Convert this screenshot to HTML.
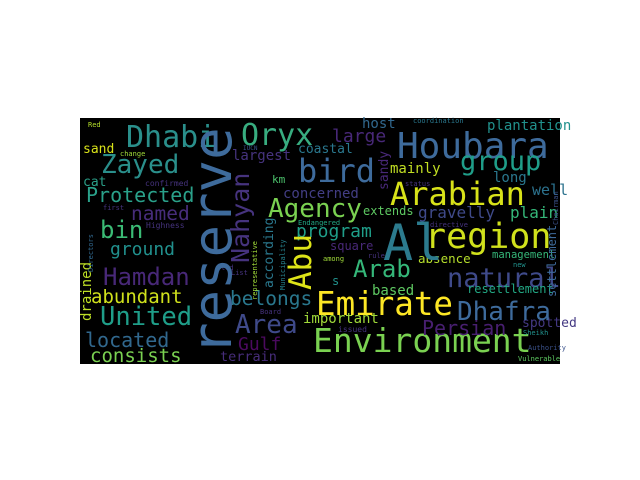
<!DOCTYPE html>
<html><head><meta charset="utf-8"><style>
html,body{margin:0;padding:0;background:#fff;width:640px;height:480px;overflow:hidden}
svg text{font-family:"DejaVu Sans Mono","Liberation Mono",monospace}
</style></head><body>
<svg width="640" height="480" xmlns="http://www.w3.org/2000/svg">
<rect x="80" y="118" width="480" height="246" fill="#000"/>
<g>
<text x="397" y="158" font-size="36" fill="#3e6b9c">Houbara</text>
<text x="126" y="147" font-size="30" fill="#2a8f8b">Dhabi</text>
<text x="241" y="145" font-size="30" fill="#38ad80">Oryx</text>
<text x="88" y="127" font-size="7" fill="#b5de2b">Red</text>
<text x="83" y="153" font-size="13" fill="#d8e219">sand</text>
<text x="120" y="156" font-size="7" fill="#a0da39">change</text>
<text x="101" y="173" font-size="26" fill="#2a8f8b">Zayed</text>
<text x="232" y="160" font-size="14" fill="#46337e">largest</text>
<text x="243" y="150" font-size="6" fill="#3b528b">IUCN</text>
<text x="298" y="153" font-size="13" fill="#2a788e">coastal</text>
<text x="298" y="182" font-size="32" fill="#3e6b9c">bird</text>
<text x="83" y="186" font-size="13" fill="#2a9f88">cat</text>
<text x="145" y="186" font-size="8" fill="#46337e">confirmed</text>
<text x="272" y="183" font-size="11" fill="#4cc26c">km</text>
<text x="86" y="202" font-size="20" fill="#2aa18a">Protected</text>
<text x="283" y="198" font-size="14" fill="#433e85">concerned</text>
<text x="268" y="217" font-size="26" fill="#7ad151">Agency</text>
<text x="131" y="220" font-size="19.5" fill="#472d7b">named</text>
<text x="103" y="210" font-size="7" fill="#46337e">first</text>
<text x="146" y="228" font-size="8" fill="#46337e">Highness</text>
<text x="100" y="238" font-size="24" fill="#3bbb75">bin</text>
<text x="110" y="255" font-size="18" fill="#21908d">ground</text>
<text x="103" y="285" font-size="24" fill="#482878">Hamdan</text>
<text x="91" y="303" font-size="19" fill="#d0e11c">abundant</text>
<text x="230" y="305" font-size="19.5" fill="#2a788e">belongs</text>
<text x="100" y="325" font-size="25.5" fill="#1f9e89">United</text>
<text x="235" y="333" font-size="26" fill="#3f4a8a">Area</text>
<text x="85" y="347" font-size="20" fill="#31688e">located</text>
<text x="238" y="350" font-size="18" fill="#4b0a5f">Gulf</text>
<text x="90" y="362" font-size="19" fill="#7ad151">consists</text>
<text x="220" y="361" font-size="13.5" fill="#472d7b">terrain</text>
<text x="303" y="323" font-size="14" fill="#a0da39">important</text>
<text x="316" y="315" font-size="32.5" fill="#fde725">Emirate</text>
<text x="313" y="352" font-size="33" fill="#7ad151">Environment</text>
<text x="260" y="314" font-size="7" fill="#46337e">Board</text>
<text x="221" y="270" font-size="7" fill="#46337e">led</text>
<text x="231" y="275" font-size="7" fill="#46337e">List</text>
<text x="422" y="335" font-size="20" fill="#481f70">Persian</text>
<text x="522" y="327" font-size="13" fill="#443983">spotted</text>
<text x="523" y="335" font-size="7" fill="#21918c">Sheikh</text>
<text x="528" y="350" font-size="7" fill="#3b528b">Authority</text>
<text x="518" y="361" font-size="7" fill="#5ec962">Vulnerable</text>
<text x="338" y="332" font-size="8" fill="#46337e">issued</text>
<text x="457" y="320" font-size="26" fill="#3e6b9c">Dhafra</text>
<text x="353" y="277" font-size="24" fill="#35b779">Arab</text>
<text x="447" y="287" font-size="27" fill="#3f4a8a">natural</text>
<text x="372" y="295" font-size="14" fill="#5ec962">based</text>
<text x="332" y="285" font-size="12" fill="#21918c">s</text>
<text x="418" y="263" font-size="12.5" fill="#b5de2b">absence</text>
<text x="492" y="258" font-size="10.5" fill="#35b779">management</text>
<text x="467" y="293" font-size="12" fill="#22a884">resettlement</text>
<text x="513" y="267" font-size="7" fill="#21918c">new</text>
<text x="330" y="250" font-size="12" fill="#482878">square</text>
<text x="323" y="261" font-size="7" fill="#a0da39">among</text>
<text x="368" y="258" font-size="7" fill="#46337e">ruler</text>
<text x="383" y="260" font-size="50" fill="#2c7b8e">Al</text>
<text x="425" y="248" font-size="35" fill="#d0e11c">region</text>
<text x="390" y="205" font-size="32" fill="#d8e219">Arabian</text>
<text x="460" y="170" font-size="27" fill="#1f9e89">group</text>
<text x="332" y="142" font-size="18" fill="#482878">large</text>
<text x="362" y="128" font-size="14" fill="#31688e">host</text>
<text x="413" y="123" font-size="7" fill="#2a788e">coordination</text>
<text x="487" y="130" font-size="14" fill="#21918c">plantation</text>
<text x="390" y="173" font-size="14" fill="#c2df23">mainly</text>
<text x="493" y="182" font-size="14" fill="#2a788e">long</text>
<text x="405" y="186" font-size="7" fill="#46337e">status</text>
<text x="532" y="195" font-size="15" fill="#2c728e">well</text>
<text x="363" y="215" font-size="12" fill="#5ec962">extends</text>
<text x="418" y="218" font-size="16" fill="#3f4a8a">gravelly</text>
<text x="510" y="218" font-size="16" fill="#35b779">plain</text>
<text x="298" y="225" font-size="7" fill="#22a884">Endangered</text>
<text x="430" y="227" font-size="7" fill="#46337e">directive</text>
<text x="296" y="237" font-size="18" fill="#1f9e89">program</text>
<!-- vertical words -->
<text x="0" y="0" font-size="54" fill="#3e6b9c" transform="translate(231,355) rotate(-90)">reserve</text>
<text x="0" y="0" font-size="25" fill="#46337e" transform="translate(249,263) rotate(-90)">Nahyan</text>
<text x="0" y="0" font-size="31" fill="#dde318" transform="translate(311,290) rotate(-90)">Abu</text>
<text x="0" y="0" font-size="14" fill="#bddf26" transform="translate(91,321) rotate(-90)">drained</text>
<text x="0" y="0" font-size="13" fill="#2a788e" transform="translate(273,288) rotate(-90)">according</text>
<text x="0" y="0" font-size="7" fill="#26828e" transform="translate(285,290) rotate(-90)">Municipality</text>
<text x="0" y="0" font-size="7" fill="#a0da39" transform="translate(257,300) rotate(-90)">representative</text>
<text x="0" y="0" font-size="7" fill="#31688e" transform="translate(93,272) rotate(-90)">Directors</text>
<text x="0" y="0" font-size="13" fill="#482878" transform="translate(388,190) rotate(-90)">sandy</text>
<text x="0" y="0" font-size="12" fill="#3e6b9c" transform="translate(556,297) rotate(-90)">settlement</text>
<text x="0" y="0" font-size="7" fill="#3b528b" transform="translate(558,225) rotate(-90)">Chairman</text>
</g>
</svg>
</body></html>
